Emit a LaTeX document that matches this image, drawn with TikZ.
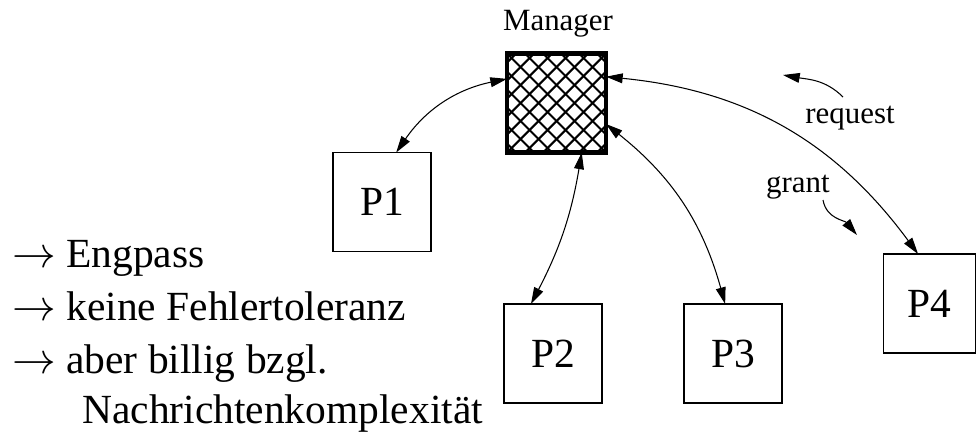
\documentclass[tikz,border=0pt]{standalone}
\usepackage{fontspec}
\setmainfont{Liberation Serif}
\usetikzlibrary{arrows.meta,calc}

\begin{document}
\begin{tikzpicture}[
  x=0.02cm, y=-0.02cm,
  font=\fontsize{23.6}{28}\selectfont,
  small/.style={font=\fontsize{17.6}{21}\selectfont},
  proc/.style={draw, line width=1.1pt, minimum width=1.96cm, minimum height=1.98cm,
                inner sep=0pt, outer sep=0pt},
  mgrbox/.style={draw, line width=2.3pt, minimum size=1.98cm, inner sep=0pt, outer sep=0pt},
  hatch/.style={line width=1.2pt},
  arr/.style={{Triangle[length=9.5pt,width=5.6pt]}-{Triangle[length=9.5pt,width=5.6pt]},
              line width=0.6pt},
  note/.style={-{Triangle[length=9.5pt,width=5.6pt]}, line width=0.6pt}
]
\useasboundingbox (0,0) rectangle (977,437);

% the manager and the processes
\node[mgrbox] (mgr) at (556.5,103) {};
\begin{scope}
  \clip (mgr.north west) rectangle (mgr.south east);
  \foreach \i in {-6,...,6} {
    \draw[hatch] ($(mgr.north west)+(\i*18,0)$) -- ++(100,100);
    \draw[hatch] ($(mgr.north east)+(\i*18,0)$) -- ++(-100,100);
  }
\end{scope}
\node[mgrbox] at (mgr) {};
\node[small, anchor=base] (mgrlbl) at (558,30) {Manager};

\node[proc] (p1) at (382,202) {P1};
\node[proc] (p2) at (553,353.5) {P2};
\node[proc] (p3) at (733,353.5) {P3};
\node[proc, minimum width=1.84cm] (p4) at (929.5,303.5) {P4};

% request / grant links
\draw[arr] (mgr.154) to[bend right=22] (p1.74);
\draw[arr] (mgr.-63) to[bend left=9] (p2.114);
\draw[arr] (mgr.-23) to[bend left=18] (p3.99);
\draw[arr] (mgr.28) to[bend left=24] (p4.103);

% message labels
\node[small, anchor=base] (req) at (850,123) {request};
\node[small, anchor=base] (grt) at (798,192) {grant};
\coordinate (req-a) at (843,97);
\coordinate (req-b) at (783,75);
\coordinate (grt-a) at (823,200);
\coordinate (grt-b) at (857,235);
\draw[note] (req-a) to[out=135, in=-10] (req-b);
\draw[note] (grt-a) to[out=-80, in=130] (grt-b);

% remarks
\node[anchor=base west, inner sep=0pt] (r1) at (12,267) {$\rightarrow$ Engpass};
\node[anchor=base west, inner sep=0pt] (r2) at (12,320) {$\rightarrow$ keine Fehlertoleranz};
\node[anchor=base west, inner sep=0pt] (r3) at (12,373) {$\rightarrow$ aber billig bzgl.};
\node[anchor=base west, inner sep=0pt] (r4) at (82,423) {Nachrichtenkomplexität};
\end{tikzpicture}
\end{document}
